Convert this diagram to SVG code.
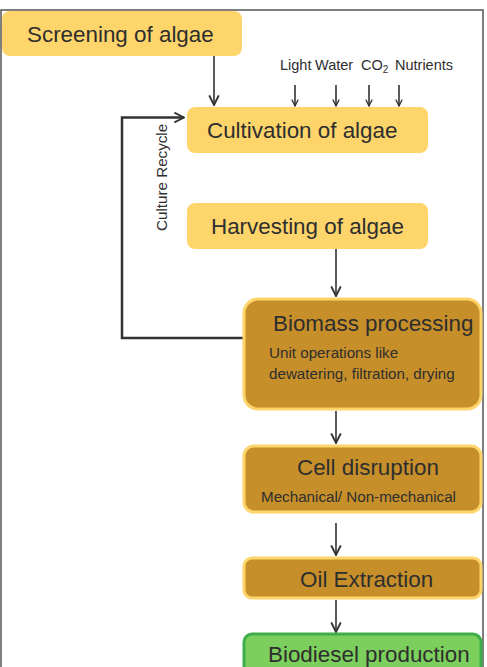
<svg xmlns="http://www.w3.org/2000/svg" width="487" height="667" viewBox="0 0 487 667">
<defs>
<marker id="ah" viewBox="0 0 10 10" refX="9" refY="5" markerWidth="8" markerHeight="8" markerUnits="userSpaceOnUse" orient="auto">
<path d="M1,1 L9,5 L1,9" fill="none" stroke="#333" stroke-width="1.6"/>
</marker>
<marker id="ah2" viewBox="0 0 10 10" refX="9" refY="5" markerWidth="12" markerHeight="12" markerUnits="userSpaceOnUse" orient="auto">
<path d="M1,1 L9,5 L1,9" fill="none" stroke="#333" stroke-width="1.6"/>
</marker>
</defs>
<style>
text{font-family:"Liberation Sans",Arial,sans-serif;fill:#2e2e2e}
.big{font-size:22.4px}
.small{font-size:15.2px}
.top{font-size:14.5px}
.light{fill:#fdd56b}
.dark{fill:#c78f2a;stroke:#fdd56b;stroke-width:3}
.green{fill:#7ccf5c;stroke:#3fae4a;stroke-width:3}
.con{fill:none;stroke:#333;stroke-width:1.6}
.thick{fill:none;stroke:#333;stroke-width:2.5}
</style>
<rect x="1" y="10" width="482" height="670" fill="#fff" stroke="#555" stroke-width="1.5"/>
<g id="connectors">
<line class="con" x1="214" y1="56" x2="214" y2="105" marker-end="url(#ah2)"/>
<line class="con" x1="295" y1="85" x2="295" y2="106" marker-end="url(#ah)"/>
<line class="con" x1="336" y1="85" x2="336" y2="106" marker-end="url(#ah)"/>
<line class="con" x1="369" y1="85" x2="369" y2="106" marker-end="url(#ah)"/>
<line class="con" x1="399" y1="85" x2="399" y2="106" marker-end="url(#ah)"/>
<polyline class="thick" points="243,338 122,338 122,117.5 184,117.5" marker-end="url(#ah2)"/>
<line class="con" x1="336" y1="249" x2="336" y2="296" marker-end="url(#ah2)"/>
<line class="con" x1="336" y1="411" x2="336" y2="443" marker-end="url(#ah2)"/>
<line class="con" x1="336" y1="523" x2="336" y2="555" marker-end="url(#ah2)"/>
<line class="con" x1="336" y1="600" x2="336" y2="632" marker-end="url(#ah2)"/>
</g>
<g id="labels">
<text class="top" x="280" y="70">Light</text>
<text class="top" x="315" y="70">Water</text>
<text class="top" x="361" y="70">CO<tspan font-size="10" dy="3">2</tspan></text>
<text class="top" x="395" y="70">Nutrients</text>
<text class="small" transform="translate(167,231) rotate(-90)">Culture Recycle</text>
</g>
<g id="screening">
<rect class="light" x="2" y="11" width="240" height="45" rx="8"/>
<text class="big" x="27" y="42">Screening of algae</text>
</g>
<g id="cultivation">
<rect class="light" x="187" y="107" width="241" height="46" rx="8"/>
<text class="big" x="207" y="138">Cultivation of algae</text>
</g>
<g id="harvesting">
<rect class="light" x="187" y="203" width="241" height="46" rx="8"/>
<text class="big" x="211" y="234">Harvesting of algae</text>
</g>
<g id="biomass">
<rect class="dark" x="244" y="299" width="237" height="110" rx="14"/>
<text class="big" x="273" y="331">Biomass processing</text>
<text class="small" x="269" y="358">Unit operations like</text>
<text class="small" x="269" y="379">dewatering, filtration, drying</text>
</g>
<g id="cell">
<rect class="dark" x="244" y="446" width="237" height="66" rx="10"/>
<text class="big" x="297" y="475">Cell disruption</text>
<text class="small" x="261" y="502">Mechanical/ Non-mechanical</text>
</g>
<g id="oil">
<rect class="dark" x="244" y="558" width="237" height="40" rx="8"/>
<text class="big" x="300" y="587">Oil Extraction</text>
</g>
<g id="biodiesel">
<rect class="green" x="244" y="634" width="237" height="50" rx="8"/>
<text class="big" x="268" y="662">Biodiesel production</text>
</g>
</svg>
